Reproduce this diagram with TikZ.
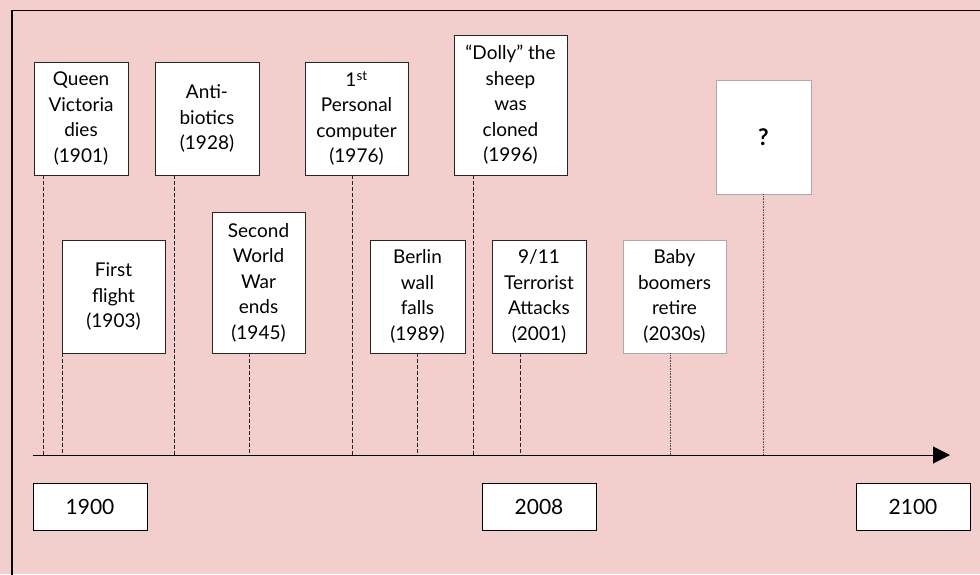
\documentclass[tikz,border=0pt]{standalone}
\usepackage{fontspec}
\setmainfont{Lato}
\usetikzlibrary{arrows.meta}
\definecolor{bgpink}{RGB}{242,207,204}
\definecolor{lightframe}{RGB}{170,170,170}
\begin{document}
\begin{tikzpicture}[x=1pt,y=-1pt,
  evbox/.style={draw=black!85,line width=0.9pt,fill=white,inner sep=0pt,align=center,
    font=\fontsize{19}{25.5}\selectfont},
  futbox/.style={evbox,draw=lightframe},
  yearbox/.style={draw=black,line width=0.9pt,fill=white,inner sep=0pt,
    minimum width=114pt,minimum height=47pt,font=\fontsize{21}{25}\selectfont},
  tick/.style={line width=0.9pt,dash pattern=on 3.5pt off 2.5pt,black!85},
  dotline/.style={line width=0.7pt,dash pattern=on 0.8pt off 0.8pt,black!70},
  axisline/.style={line width=1pt,-{Triangle[length=17pt,width=17pt]}}
]
\useasboundingbox (0,0) rectangle (980,574);
\fill[bgpink] (0,0) rectangle (980,574);
\draw[line width=1.4pt] (12,576) -- (12,10.5) -- (982,10.5);

% axis
\coordinate (axs) at (33,455);
\coordinate (axe) at (950,455);
\draw[axisline] (axs) -- (axe);

% event boxes
\node[evbox,minimum width=94pt,minimum height=113pt] (qv) at (81,118.5) {Queen\\Victoria\\dies\\(1901)};
\node[evbox,minimum width=104pt,minimum height=113pt] (ab) at (207,118.5) {Anti-\\biotics\\(1928)};
\node[evbox,minimum width=103pt,minimum height=113pt] (pc) at (356.5,118.5) {1\textsuperscript{st}\\Personal\\computer\\(1976)};
\node[evbox,minimum width=113pt,minimum height=140pt] (dolly) at (510.5,105) {“Dolly” the\\sheep\\was\\cloned\\(1996)};
\node[futbox,minimum width=95pt,minimum height=114pt,font=\fontsize{23}{26}\selectfont] (qm) at (763.5,137) {\textbf{?}};
\node[evbox,minimum width=103pt,minimum height=113pt] (ff) at (113.5,296.5) {First\\flight\\(1903)};
\node[evbox,minimum width=93pt,minimum height=141pt] (ww) at (258.5,282.5) {Second\\World\\War\\ends\\(1945)};
\node[evbox,minimum width=95pt,minimum height=113pt] (bw) at (417.5,296.5) {Berlin\\wall\\falls\\(1989)};
\node[evbox,minimum width=94pt,minimum height=113pt] (nine) at (539,296.5) {9/11\\Terrorist\\Attacks\\(2001)};
\node[futbox,minimum width=103pt,minimum height=113pt] (bb) at (674.5,296.5) {Baby\\boomers\\retire\\(2030s)};

% year boxes
\node[yearbox] (y1900) at (90,506.5) {1900};
\node[yearbox] (y2008) at (539,506.5) {2008};
\node[yearbox] (y2100) at (913,506.5) {2100};

% ticks on axis
\coordinate (tqv) at (43,455);
\coordinate (tab) at (174,455);
\coordinate (tpc) at (352,455);
\coordinate (tdolly) at (473,455);
\coordinate (tqm) at (763,455);
\coordinate (tff) at (62,455);
\coordinate (tww) at (249,455);
\coordinate (tbw) at (417,455);
\coordinate (tnine) at (520,455);
\coordinate (tbb) at (670,455);

\draw[tick] (qv.south -| tqv) -- (tqv);
\draw[tick] (ab.south -| tab) -- (tab);
\draw[tick] (pc.south -| tpc) -- (tpc);
\draw[tick] (dolly.south -| tdolly) -- (tdolly);
\draw[tick] (ff.south -| tff) -- (tff);
\draw[tick] (ww.south -| tww) -- (tww);
\draw[tick] (bw.south -| tbw) -- (tbw);
\draw[tick] (nine.south -| tnine) -- (tnine);
\draw[dotline] (qm.south -| tqm) -- (tqm);
\draw[dotline] (bb.south -| tbb) -- (tbb);
\end{tikzpicture}
\end{document}
